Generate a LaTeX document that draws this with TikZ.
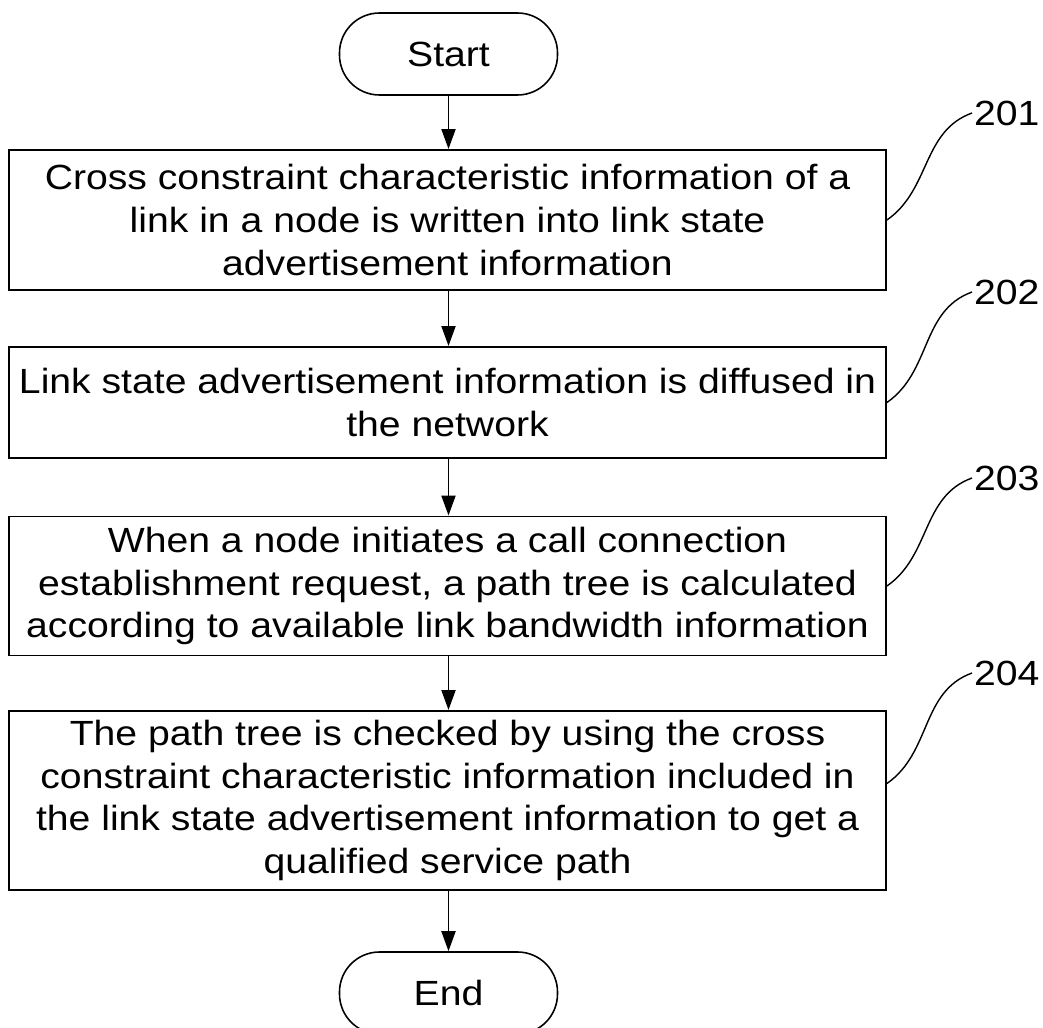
\documentclass[tikz,border=0pt]{standalone}
\usepackage{fontspec}
\setmainfont{Liberation Sans}[FakeStretch=1.12]
\usetikzlibrary{arrows.meta}
\begin{document}
\begin{tikzpicture}[auto,
    every node/.style={font=\fontsize{19.9}{24.2}\selectfont},
    stepbox/.style={rectangle,draw,line width=1.1pt,minimum width=17.54cm,align=center,inner sep=0pt},
    terminal/.style={rectangle,draw,rounded corners=0.8cm,line width=0.9pt,minimum width=4.36cm,minimum height=1.64cm},
    flow/.style={-{Triangle[length=0.4cm,width=0.28cm]},line width=1.1pt},
    lead/.style={line width=0.8pt},
    ref/.style={anchor=west,inner sep=1pt}]
            \useasboundingbox (0,0) rectangle (20.86,-20.56);
            \clip (0,0) rectangle (20.86,-20.56);

            \draw (8.97,-1.08) node (start) [terminal] {Start};
            \draw (8.95,-4.40) node (s201) [stepbox,minimum height=2.80cm] {Cross constraint characteristic information of a\\link in a node is written into link state\\advertisement information};
            \draw (8.95,-8.05) node (s202) [stepbox,minimum height=2.22cm] {Link state advertisement information is diffused in\\the network};
            \draw (8.95,-11.72) node (s203) [stepbox,minimum height=2.78cm] {When a node initiates a call connection\\establishment request, a path tree is calculated\\according to available link bandwidth information};
            \draw (8.95,-16.01) node (s204) [stepbox,minimum height=3.58cm] {The path tree is checked by using the cross\\constraint characteristic information included in\\the link state advertisement information to get a\\qualified service path};
            \draw (8.97,-19.86) node (end) [terminal] {End};

            \draw (19.44,-2.26) node (l201) [ref] {201};
            \draw (19.44,-5.84) node (l202) [ref] {202};
            \draw (19.44,-9.56) node (l203) [ref] {203};
            \draw (19.44,-13.46) node (l204) [ref] {204};

            \draw [flow] (start.south) to (start.south |- s201.north);
            \draw [flow] (start.south |- s201.south) to (start.south |- s202.north);
            \draw [flow] (start.south |- s202.south) to (start.south |- s203.north);
            \draw [flow] (start.south |- s203.south) to (start.south |- s204.north);
            \draw [flow] (start.south |- s204.south) to (end.north);

            \draw [lead] (s201.east) to [out=35,in=200] (l201.west);
            \draw [lead] (s202.east) to [out=35,in=200] (l202.west);
            \draw [lead] (s203.east) to [out=35,in=200] (l203.west);
            \draw [lead] ([yshift=0.34cm]s204.east) to [out=35,in=200] (l204.west);
        \end{tikzpicture}
\end{document}
